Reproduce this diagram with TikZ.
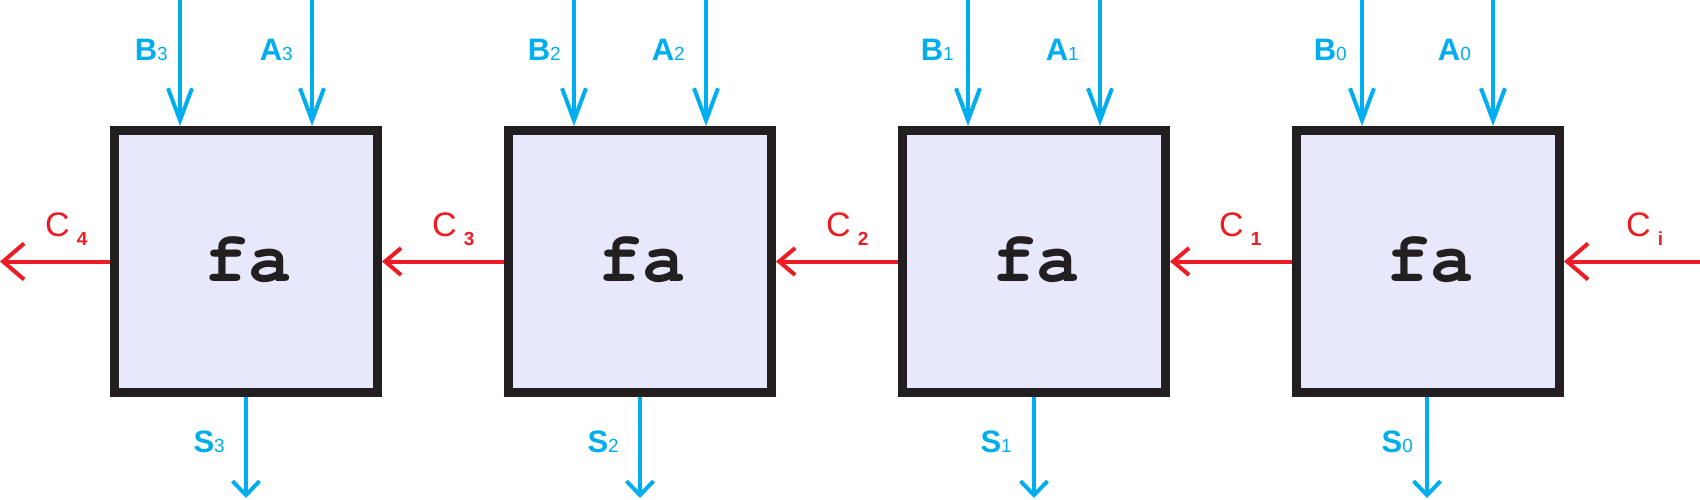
\documentclass[tikz,border=0pt]{standalone}
\usepackage{fontspec}
\setmainfont{Liberation Sans}
\newfontfamily\monofa{TeX Gyre Cursor}
\usetikzlibrary{arrows.meta}
\definecolor{wireblue}{HTML}{00AEEF}
\definecolor{wirered}{HTML}{ED1C24}
\definecolor{boxfill}{HTML}{E8E8FC}
\definecolor{boxline}{HTML}{231F20}
\newcommand{\subdig}[1]{{\fontsize{19}{19}\selectfont\mdseries #1}}
\newcommand{\carrylab}[1]{C\hspace{7pt}\raisebox{-9pt}{\fontsize{19}{19}\selectfont\bfseries #1}}
\begin{document}
\begin{tikzpicture}[x=1pt,y=-1pt,
  fabox/.style={draw=boxline, fill=boxfill, line width=9pt, minimum width=263pt, minimum height=262pt, inner sep=0pt},
  fatext/.style={font=\monofa\bfseries\fontsize{72}{72}\selectfont, text=boxline, inner sep=0pt, anchor=base},
  inwire/.style={draw=wireblue, line width=4pt, -{Straight Barb[length=32pt,width=24pt]}},
  outwire/.style={draw=wireblue, line width=4pt, -{Straight Barb[length=14pt,width=27pt]}},
  carry/.style={draw=wirered, line width=4pt, -{Straight Barb[length=16pt,width=27pt]}},
  carryend/.style={draw=wirered, line width=4pt, -{Straight Barb[length=21pt,width=36pt]}},
  blab/.style={text=wireblue, inner sep=0pt, anchor=base east, font=\fontsize{31}{31}\selectfont\bfseries},
  rlab/.style={text=wirered, inner sep=0pt, anchor=base west, font=\fontsize{34}{34}\selectfont},
]
\useasboundingbox (0,0) rectangle (1700,500);

% boxes
\node[fabox] (box3) at (246,261.5) {};
\node[fabox] (box2) at (640,261.5) {};
\node[fabox] (box1) at (1034,261.5) {};
\node[fabox] (box0) at (1428,261.5) {};
\node[fatext] (fa3) at (248,281) {fa};
\node[fatext] (fa2) at (642,281) {fa};
\node[fatext] (fa1) at (1036,281) {fa};
\node[fatext] (fa0) at (1430,281) {fa};

% input wire tops
\coordinate (b3top) at (180,0);
\coordinate (a3top) at (312,0);
\coordinate (b2top) at (574,0);
\coordinate (a2top) at (706,0);
\coordinate (b1top) at (968,0);
\coordinate (a1top) at (1100,0);
\coordinate (b0top) at (1362,0);
\coordinate (a0top) at (1493,0);
\foreach \w/\b in {b3top/box3,a3top/box3,b2top/box2,a2top/box2,b1top/box1,a1top/box1,b0top/box0,a0top/box0}{
  \draw[inwire] (\w) -- (\w |- \b.north);
}

% sum outputs
\coordinate (s3end) at (246,498);
\coordinate (s2end) at (640,498);
\coordinate (s1end) at (1034,498);
\coordinate (s0end) at (1427,498);
\draw[outwire] (box3.south) -- (s3end);
\draw[outwire] (box2.south) -- (s2end);
\draw[outwire] (box1.south) -- (s1end);
\draw[outwire] (box0.south -| s0end) -- (s0end);

% carries
\coordinate (cin) at (1700,261.5);
\coordinate (cout) at (0,261.5);
\draw[carryend] (cin) -- (box0.east);
\draw[carry] (box0.west) -- (box1.east);
\draw[carry] (box1.west) -- (box2.east);
\draw[carry] (box2.west) -- (box3.east);
\draw[carryend] (box3.west) -- (cout);

% blue labels
\node[blab] (lb3) at (168,61) {B\subdig{3}};
\node[blab] (la3) at (293,61) {A\subdig{3}};
\node[blab] (lb2) at (561,61) {B\subdig{2}};
\node[blab] (la2) at (685,61) {A\subdig{2}};
\node[blab] (lb1) at (954,61) {B\subdig{1}};
\node[blab] (la1) at (1079,61) {A\subdig{1}};
\node[blab] (lb0) at (1347,61) {B\subdig{0}};
\node[blab] (la0) at (1471,61) {A\subdig{0}};
\node[blab] (ls3) at (225,452) {S\subdig{3}};
\node[blab] (ls2) at (619,452) {S\subdig{2}};
\node[blab] (ls1) at (1012,452) {S\subdig{1}};
\node[blab] (ls0) at (1413,452) {S\subdig{0}};

% red labels
\node[rlab] (lc4) at (45,236) {\carrylab{4}};
\node[rlab] (lc3) at (432,236) {\carrylab{3}};
\node[rlab] (lc2) at (826,236) {\carrylab{2}};
\node[rlab] (lc1) at (1219,236) {\carrylab{1}};
\node[rlab] (lci) at (1626,236) {\carrylab{i}};
\end{tikzpicture}
\end{document}
